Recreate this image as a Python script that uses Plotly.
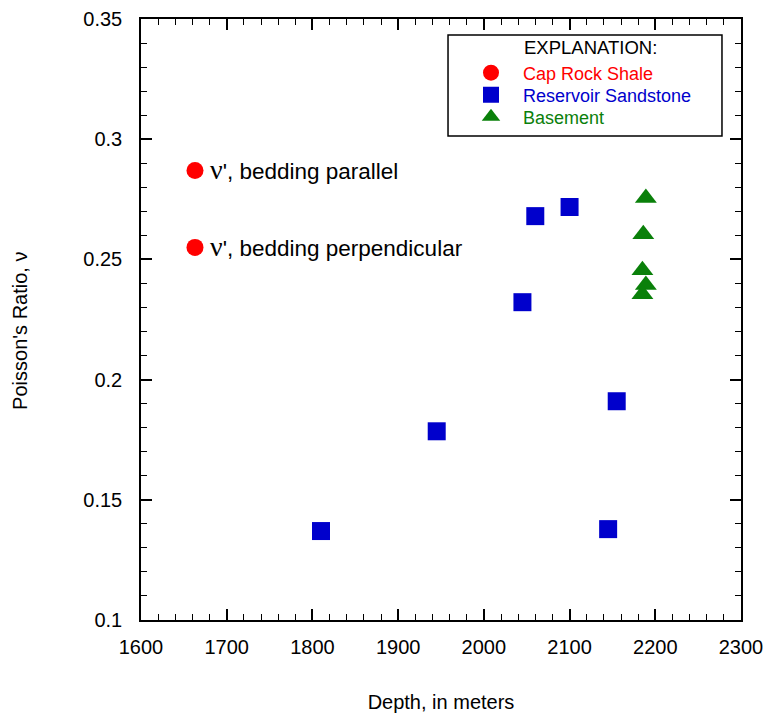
import plotly.graph_objects as go

# ---- data ----
cap_depth = [1663, 1663]
cap_nu = [0.287, 0.255]
cap_labels = ["bedding parallel", "bedding perpendicular"]

res_depth = [1810, 1945, 2045, 2060, 2100, 2155, 2145]
res_nu = [0.137, 0.1785, 0.2322, 0.268, 0.2718, 0.191, 0.1378]

base_depth = [2189, 2186, 2185, 2189, 2185]
base_nu = [0.2755, 0.2605, 0.2455, 0.2393, 0.2355]

x_ticks = [1600, 1700, 1800, 1900, 2000, 2100, 2200, 2300]
y_ticks = [0.1, 0.15, 0.2, 0.25, 0.3, 0.35]
y_ticktext = ["0.1", "0.15", "0.2", "0.25", "0.3", "0.35"]

FONT = "Liberation Sans, Arial, Helvetica, sans-serif"
RED = "#ff0000"
BLUE = "#0000cc"
GREEN = "#0a800a"

fig = go.Figure()
fig.add_trace(go.Scatter(
    x=cap_depth, y=cap_nu, mode="markers", legend="legend",
    name="<span style='color:#ff0000'>Cap Rock Shale</span>",
    marker=dict(symbol="circle", size=17, color=RED, line=dict(width=0)),
))
fig.add_trace(go.Scatter(
    x=res_depth, y=res_nu, mode="markers", legend="legend2",
    name="<span style='color:#0000cc'>Reservoir Sandstone</span>",
    marker=dict(symbol="square", size=18, color=BLUE, line=dict(width=0)),
))
fig.add_trace(go.Scatter(
    x=base_depth, y=base_nu, mode="markers", legend="legend3",
    name="<span style='color:#0a800a'>Basement</span>",
    marker=dict(symbol="triangle-up", size=19, color=GREEN, line=dict(width=0)),
))

for xv, yv, lab in zip(cap_depth, cap_nu, cap_labels):
    fig.add_annotation(
        x=xv, y=yv, xref="x", yref="y", xanchor="left", yanchor="middle",
        xshift=13, yshift=1, showarrow=False,
        text="<span style='font-size:28px;font-family:Liberation Serif, serif'>ν</span>', " + lab,
        font=dict(family=FONT, size=22.5, color="black"),
    )

# y-axis title placed as rotated annotation
fig.add_annotation(
    x=-0.2017, y=0.481, xref="paper", yref="paper", xanchor="center", yanchor="middle",
    textangle=-90, showarrow=False, text="Poisson's Ratio, ν",
    font=dict(family=FONT, size=20, color="black"),
)

# legend heading and frame
fig.add_annotation(
    x=(522 - 141) / 600, y=(620 - 48) / 601, xref="paper", yref="paper",
    xanchor="left", yanchor="middle",
    showarrow=False, text="EXPLANATION:",
    font=dict(family=FONT, size=18.5, color="black"),
)
fig.add_shape(
    type="rect", xref="paper", yref="paper",
    x0=0.5117, x1=0.9683, y0=0.8053, y1=0.9734,
    line=dict(color="black", width=1.5), fillcolor="rgba(0,0,0,0)", layer="above",
)

axis_common = dict(
    showgrid=False, zeroline=False, showline=True, linecolor="black", linewidth=1.5,
    mirror="ticks", ticks="inside", ticklen=11, tickwidth=1.5, tickcolor="black",
    tickfont=dict(family=FONT, size=20, color="black"),
)

fig.update_xaxes(
    range=[1600, 2300], tickvals=x_ticks, ticktext=[str(v) for v in x_ticks],
    minor=dict(ticks="inside", ticklen=6, tickwidth=1.2, dtick=20, tick0=1600, tickcolor="black"),
    title=dict(text="Depth, in meters", font=dict(family=FONT, size=20, color="black"), standoff=38),
    ticklabelstandoff=8,
    **axis_common,
)
fig.update_yaxes(
    range=[0.1, 0.35], tickvals=y_ticks, ticktext=y_ticktext,
    minor=dict(ticks="inside", ticklen=6, tickwidth=1.2, dtick=0.01, tick0=0.1, tickcolor="black"),
    ticklabelstandoff=13,
    **axis_common,
)


def leg(ypix):
    return dict(
        x=(459 - 141) / 600, y=(620 - ypix) / 601, xanchor="left", yanchor="middle",
        borderwidth=0, bgcolor="rgba(0,0,0,0)",
        font=dict(family=FONT, size=18), itemwidth=54,
    )


fig.update_layout(
    width=769, height=717,
    margin=dict(l=141, r=28, t=19, b=97, autoexpand=False),
    paper_bgcolor="white", plot_bgcolor="white",
    font=dict(family=FONT, size=18, color="black"),
    showlegend=True,
    legend=leg(73), legend2=leg(95), legend3=leg(117),
)

fig.write_html("out.html")
